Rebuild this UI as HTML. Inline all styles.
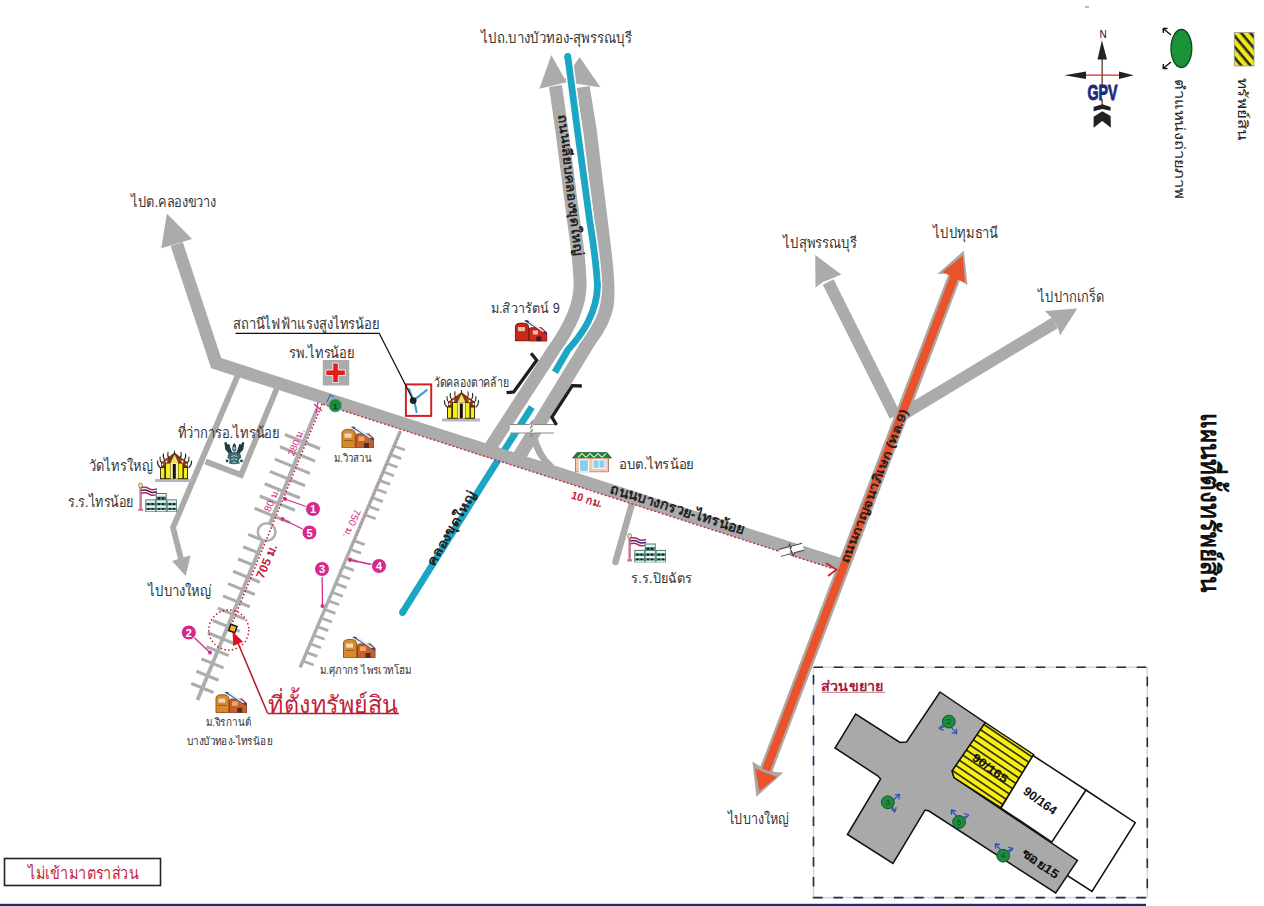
<!DOCTYPE html>
<html><head><meta charset="utf-8"><style>
html,body{margin:0;padding:0;background:#fff;}
svg{display:block;}
</style></head><body>
<svg width="1264" height="906" viewBox="0 0 1264 906">
<rect width="1264" height="906" fill="#fff"/>
<defs>
<pattern id="hatch" patternUnits="userSpaceOnUse" width="8" height="6.2" patternTransform="rotate(34)">
  <rect width="8" height="6.2" fill="#f5ef12"/><rect x="0" y="0" width="8" height="1.6" fill="#2a2010"/>
</pattern>
<pattern id="hatch2" patternUnits="userSpaceOnUse" width="8" height="7" patternTransform="rotate(50)">
  <rect width="8" height="7" fill="#f3ea10"/><rect x="0" y="0" width="8" height="2.6" fill="#2a2a2a"/>
</pattern>
<symbol id="house" viewBox="0 0 33 22">
  <path d="M1,21.8 V7 Q1,3.4 7.6,3.4 Q14.2,3.4 14.2,7 V21.8 Z" fill="#d68a2a" stroke="#8a4a12" stroke-width="0.9"/>
  <rect x="3.5" y="7.5" width="7" height="4.2" fill="#f0d8c0"/>
  <rect x="3" y="14" width="9" height="1" fill="#a05a18"/>
  <path d="M14.9,22.2 V9.5 Q14.9,7.9 17,7.9 H28 L32.8,12.5 V22.2 Z" fill="#c8602a" stroke="#7a3010" stroke-width="0.9"/>
  <rect x="17.5" y="10.5" width="6" height="4.5" fill="#f0a868"/>
  <rect x="23" y="17" width="5" height="5" fill="#4a3028"/>
  <polygon points="9.6,1 12.5,0.4 32.8,12.6 32.8,15 " fill="#2a4a8a"/>
  <polygon points="13.5,2 17,2 31,11.8 28.5,12" fill="#d8f0f8"/>
</symbol>
<symbol id="redhouse" viewBox="0 0 33 22">
  <path d="M1,21.5 V7 Q1,3.6 7.6,3.6 Q14.2,3.6 14.2,7 V21.5 Z" fill="#c8281a" stroke="#6a1008" stroke-width="0.9"/>
  <rect x="3.5" y="7.5" width="7" height="4.2" fill="#e8c0b0"/>
  <path d="M14.9,21.8 V10 Q14.9,8.2 17,8.2 H27 L32.5,13.5 V21.8 Z" fill="#d42818" stroke="#6a1008" stroke-width="0.9"/>
  <rect x="18.5" y="11" width="5" height="4" fill="#f4c8c0"/>
  <rect x="22" y="17" width="5" height="4.8" fill="#3a2020"/>
  <polygon points="9.6,1.2 12.5,0.6 32.5,13 32.5,15" fill="#2a2a6a"/>
  <polygon points="13.5,2.2 17,2.2 30.5,12 28,12.2" fill="#f0f0f8"/>
</symbol>
<symbol id="temple" viewBox="0 0 38 32">
  <rect x="0" y="28.5" width="38" height="3" fill="#b4b4c4"/>
  <path d="M6,12 L13,7 L19.5,2 L26,7 L33,12 L33,28.5 L6,28.5 Z" fill="#7a3a14"/>
  <g fill="#f2ee18" stroke="#2a200a" stroke-width="0.9">
    <rect x="5.5" y="17" width="4.3" height="11.2"/>
    <rect x="10.5" y="12.5" width="5" height="15.7"/>
    <rect x="23" y="12.5" width="5" height="15.7"/>
    <rect x="28.3" y="17" width="4.3" height="11.2"/>
  </g>
  <rect x="15.5" y="12.5" width="7.5" height="15.7" fill="#f8f4a0"/>
  <rect x="17.8" y="13.5" width="3" height="14.8" fill="#1a1010"/>
  <polygon points="15.5,12.5 19.5,4 23.5,12.5" fill="#f0e060"/>
  <path d="M9,14 Q10,9 13,8 M28,14 Q27,9 24,8" stroke="#c04020" stroke-width="2" fill="none"/>
  <g stroke="#2a2a2a" stroke-width="1.1" fill="none" stroke-linecap="round">
    <path d="M19.5,4 V0.5"/>
    <path d="M14,8 Q12,5 13,1.8"/><path d="M25,8 Q27,5 26,1.8"/>
    <path d="M10,10 Q7.5,7 8.5,3.5"/><path d="M29,10 Q31.5,7 30.5,3.5"/>
    <path d="M7,13 Q4.5,10 5,6.5"/><path d="M32,13 Q34.5,10 34,6.5"/>
    <path d="M5,17 Q2,14 2.5,10.5"/><path d="M34,17 Q37,14 36.5,10.5"/>
  </g>
  <g fill="#fff"><circle cx="11.5" cy="11" r="1"/><circle cx="27.5" cy="11" r="1"/><circle cx="7.5" cy="14" r="0.9"/><circle cx="31.5" cy="14" r="0.9"/></g>
</symbol>
<symbol id="school" viewBox="0 0 40 30">
  <rect x="2.4" y="2" width="2.5" height="26.5" fill="#c87898"/>
  <rect x="1.3" y="26.8" width="4.8" height="2.2" fill="#c87898"/>
  <ellipse cx="3.6" cy="3.4" rx="1.9" ry="2.4" fill="#f4eab0" stroke="#6a6a20" stroke-width="0.7"/>
  <path d="M4.5,5.6 Q9,4.6 12,6.6 T20,7" stroke="#c82050" stroke-width="1.5" fill="none"/>
  <path d="M4.5,8.4 Q9,7.4 12,9.4 T20,9.8" stroke="#2a2a6a" stroke-width="1.5" fill="none"/>
  <path d="M4.5,11.2 Q9,10.2 12,12.2 T20,12.6" stroke="#c02050" stroke-width="1.5" fill="none"/>
  <g fill="#4a7872">
    <rect x="18.7" y="11" width="11" height="19.2"/>
    <rect x="8.3" y="17.4" width="10.6" height="12.8"/>
    <rect x="29.7" y="17.4" width="10.5" height="12.8"/>
  </g>
  <g fill="#e4faf4">
    <rect x="19.6" y="12" width="9.2" height="2.6"/>
    <rect x="9.2" y="18.4" width="8.8" height="2.4"/><rect x="19.6" y="18.4" width="9.2" height="2.4"/><rect x="30.6" y="18.4" width="8.7" height="2.4"/>
    <rect x="9.2" y="23.4" width="8.8" height="2.4"/><rect x="19.6" y="23.4" width="9.2" height="2.4"/><rect x="30.6" y="23.4" width="8.7" height="2.4"/>
    <rect x="9.2" y="28" width="8.8" height="1.4"/><rect x="19.6" y="28" width="9.2" height="1.4"/><rect x="30.6" y="28" width="8.7" height="1.4"/>
  </g>
  <g fill="#142020">
    <rect x="21" y="15.3" width="2" height="2"/><rect x="25" y="15.3" width="2" height="2"/>
    <rect x="10.5" y="21.2" width="2" height="1.8"/><rect x="14.5" y="21.2" width="2" height="1.8"/><rect x="21" y="21.2" width="2" height="1.8"/><rect x="25" y="21.2" width="2" height="1.8"/><rect x="32" y="21.2" width="2" height="1.8"/><rect x="36" y="21.2" width="2" height="1.8"/>
    <rect x="10.5" y="26.1" width="2" height="1.6"/><rect x="14.5" y="26.1" width="2" height="1.6"/><rect x="21" y="26.1" width="2" height="1.6"/><rect x="25" y="26.1" width="2" height="1.6"/><rect x="32" y="26.1" width="2" height="1.6"/><rect x="36" y="26.1" width="2" height="1.6"/>
  </g>
</symbol>
<symbol id="garuda" viewBox="0 0 22 23">
  <path d="M1,1 L3,0.3 L4.2,3 L6,2.5 L8,9 L10,12.5 L6,12.5 L2,8 Z" fill="#1e3c42"/>
  <path d="M21,1 L19,0.3 L17.8,3 L16,2.5 L14,9 L12,12.5 L16,12.5 L20,8 Z" fill="#1e3c42"/>
  <path d="M5,12 Q11,9 17,12 L18,16 L15.5,18.5 L16.5,22 L11,23 L5.5,22 L6.5,18.5 L4,16 Z" fill="#3c6a70"/>
  <path d="M9,8 Q9,2.8 11,1.5 Q13,2.8 13,8 L12,10 L10,10 Z" fill="#1e3c42"/>
  <ellipse cx="11" cy="7" rx="1.4" ry="2" fill="#8ab4b8"/>
  <path d="M8,15 Q11,13 14,15 M8,18 Q11,16.5 14,18 M9,21 Q11,19.5 13,21" stroke="#b8dcdc" stroke-width="0.9" fill="none"/>
  <circle cx="3.8" cy="19.3" r="1.4" fill="#1e3c42"/><circle cx="18.2" cy="19.3" r="1.4" fill="#1e3c42"/>
</symbol>
<symbol id="obt" viewBox="0 0 40 21">
  <path d="M0.5,6.5 L5,1 L35,1 L39.5,6.5 Z" fill="#23803a" stroke="#1a4a20" stroke-width="0.6"/>
  <path d="M6,6 L10,2 L14,6 L18,2 L22,6 L26,2 L30,6 L34,2" stroke="#c8f0c0" stroke-width="1.1" fill="none"/>
  <rect x="3.5" y="6.5" width="33" height="14" fill="#f2c8b0" stroke="#a06a50" stroke-width="0.8"/>
  <rect x="7.5" y="8.3" width="9" height="12" fill="#88cef0" stroke="#fff" stroke-width="1"/>
  <rect x="21" y="8.3" width="12" height="8.5" fill="#88cef0" stroke="#fff" stroke-width="1"/>
  <line x1="27" y1="8.3" x2="27" y2="16.8" stroke="#fff" stroke-width="0.8"/>
</symbol>
</defs>
<g id="geo">
<path d="M176.7,244 L216.2,363.2 L840,564.4" fill="none" stroke="#ababab" stroke-width="12.8" stroke-linejoin="miter" stroke-miterlimit="10"/>
<polygon points="166.9,213.6 161.3,248.3 192.0,239.0" fill="#ababab" />
<path d="M238,375 L173,527.5 L181,559" fill="none" stroke="#ababab" stroke-width="5.8" />
<polygon points="185.7,575.9 172.0,560.9 190.6,555.2" fill="#ababab" />
<path d="M277,388 L241,475 L205.5,461.5" fill="none" stroke="#ababab" stroke-width="5.8" />
<path d="M633,500 L615.5,562" fill="none" stroke="#ababab" stroke-width="6.5" stroke-linecap="round"/>
<path d="M555.5,86 L561.8,130 L568.3,180 L573.5,220 Q579,256 580,280 Q581,296 574,314 Q566,333 553.5,350 L488,451" fill="none" stroke="#ababab" stroke-width="13" />
<path d="M583,87 L589.9,130 L596,180 L600.9,220 L605.5,258 Q609,290 607,305 Q604,322 590,340 L517,460" fill="none" stroke="#ababab" stroke-width="13.5" />
<path d="M533,434 Q538,456 552,468" fill="none" stroke="#ababab" stroke-width="7" />
<polygon points="551.3,54.9 539.4,88.7 566.7,82.2" fill="#ababab" />
<polygon points="579.6,56.9 562.7,81.7 600.4,87.2" fill="#ababab" />
<path d="M895.2,416 L828.2,282" fill="none" stroke="#ababab" stroke-width="12" />
<polygon points="815.2,255.0 815.5,287.5 823.0,282.0 833.1,278.1 841.3,274.4" fill="#ababab" />
<path d="M897,418 L1054.6,323" fill="none" stroke="#ababab" stroke-width="12" />
<polygon points="1077.2,308.5 1044.9,311.0 1051.3,317.4 1057.9,328.1 1060.1,335.6" fill="#ababab" />
<path d="M567.7,56 L577.4,130 L584.2,180 L589.6,220 Q596,260 597.4,284 Q598,302 588,322 Q580,337 567.8,350 L554.9,372.2" fill="none" stroke="#ffffff" stroke-width="9.8" stroke-linecap="butt"/>
<path d="M567.7,56 L577.4,130 L584.2,180 L589.6,220 Q596,260 597.4,284 Q598,302 588,322 Q580,337 567.8,350 L554.9,372.2" fill="none" stroke="#1ba6c6" stroke-width="6.8" stroke-linecap="butt"/>
<circle cx="567.7" cy="56.5" r="3.4" fill="#1ba6c6"/>
<path d="M531.8,407.2 L485.4,480 L402.5,612.5" fill="none" stroke="#ffffff" stroke-width="9.8" stroke-linecap="butt"/>
<path d="M531.8,407.2 L485.4,480 L402.5,612.5" fill="none" stroke="#1ba6c6" stroke-width="6.8" stroke-linecap="butt"/>
<circle cx="402.5" cy="612.5" r="3.4" fill="#1ba6c6"/>
<path d="M465,443.4 L515,459.5" fill="none" stroke="#ababab" stroke-width="12.8" />
<path d="M955,275 L766,770" fill="none" stroke="#aea6a2" stroke-width="13" />
<polygon points="963.9,250.6 937.4,274.0 948.7,273.7 960.2,279.8 967.5,285.2" fill="#aea6a2" />
<polygon points="756.4,796.7 752.4,761.5 763.0,768.0 775.0,772.0 783.4,772.5" fill="#aea6a2" />
<path d="M955,275 L766,770" fill="none" stroke="#e9532b" stroke-width="8.2" />
<polygon points="962.8,255.5 942.5,272.0 965.0,283.0" fill="#e9532b" />
<polygon points="759.4,791.0 755.2,768.5 777.0,777.0" fill="#e9532b" />
<line x1="317" y1="409" x2="197.5" y2="700" stroke="#adadad" stroke-width="3.8"/>
<line x1="284.9" y1="434.5" x2="320.1" y2="448.8" stroke="#adadad" stroke-width="3.1"/>
<line x1="279.9" y1="446.8" x2="315.1" y2="461.1" stroke="#adadad" stroke-width="3.1"/>
<line x1="274.8" y1="459.1" x2="310.0" y2="473.4" stroke="#adadad" stroke-width="3.1"/>
<line x1="269.8" y1="471.4" x2="305.0" y2="485.7" stroke="#adadad" stroke-width="3.1"/>
<line x1="264.7" y1="483.7" x2="299.9" y2="498.0" stroke="#adadad" stroke-width="3.1"/>
<line x1="259.7" y1="496.0" x2="294.9" y2="510.3" stroke="#adadad" stroke-width="3.1"/>
<line x1="254.6" y1="508.3" x2="289.8" y2="522.6" stroke="#adadad" stroke-width="3.1"/>
<line x1="248.2" y1="534.4" x2="263.0" y2="540.4" stroke="#adadad" stroke-width="3.1"/>
<line x1="243.2" y1="546.7" x2="258.0" y2="552.7" stroke="#adadad" stroke-width="3.1"/>
<line x1="238.1" y1="559.0" x2="252.9" y2="565.0" stroke="#adadad" stroke-width="3.1"/>
<line x1="233.1" y1="571.3" x2="259.9" y2="582.2" stroke="#adadad" stroke-width="3.1"/>
<line x1="228.0" y1="583.6" x2="254.9" y2="594.5" stroke="#adadad" stroke-width="3.1"/>
<line x1="223.0" y1="595.9" x2="249.8" y2="606.8" stroke="#adadad" stroke-width="3.1"/>
<line x1="217.9" y1="608.2" x2="244.8" y2="619.1" stroke="#adadad" stroke-width="3.1"/>
<line x1="212.9" y1="620.5" x2="239.7" y2="631.4" stroke="#adadad" stroke-width="3.1"/>
<line x1="207.8" y1="632.8" x2="234.7" y2="643.7" stroke="#adadad" stroke-width="3.1"/>
<line x1="206.5" y1="646.6" x2="228.7" y2="655.6" stroke="#adadad" stroke-width="3.1"/>
<line x1="201.4" y1="658.9" x2="223.6" y2="667.9" stroke="#adadad" stroke-width="3.1"/>
<line x1="196.4" y1="671.2" x2="218.6" y2="680.2" stroke="#adadad" stroke-width="3.1"/>
<line x1="191.3" y1="683.5" x2="213.5" y2="692.5" stroke="#adadad" stroke-width="3.1"/>
<line x1="400.4" y1="431" x2="300.1" y2="667.5" stroke="#adadad" stroke-width="3.4"/>
<line x1="394.0" y1="446.0" x2="404.8" y2="450.0" stroke="#adadad" stroke-width="2.8"/>
<line x1="390.4" y1="454.6" x2="401.2" y2="458.6" stroke="#adadad" stroke-width="2.8"/>
<line x1="386.7" y1="463.2" x2="397.5" y2="467.2" stroke="#adadad" stroke-width="2.8"/>
<line x1="383.1" y1="471.8" x2="393.9" y2="475.8" stroke="#adadad" stroke-width="2.8"/>
<line x1="379.4" y1="480.4" x2="390.2" y2="484.4" stroke="#adadad" stroke-width="2.8"/>
<line x1="375.8" y1="489.0" x2="386.6" y2="493.0" stroke="#adadad" stroke-width="2.8"/>
<line x1="372.2" y1="497.6" x2="382.9" y2="501.6" stroke="#adadad" stroke-width="2.8"/>
<line x1="368.5" y1="506.2" x2="379.3" y2="510.2" stroke="#adadad" stroke-width="2.8"/>
<line x1="364.9" y1="514.8" x2="375.6" y2="518.8" stroke="#adadad" stroke-width="2.8"/>
<line x1="353.9" y1="540.6" x2="364.7" y2="544.6" stroke="#adadad" stroke-width="2.8"/>
<line x1="350.3" y1="549.2" x2="361.1" y2="553.2" stroke="#adadad" stroke-width="2.8"/>
<line x1="346.6" y1="557.8" x2="357.4" y2="561.8" stroke="#adadad" stroke-width="2.8"/>
<line x1="343.0" y1="566.4" x2="353.8" y2="570.4" stroke="#adadad" stroke-width="2.8"/>
<line x1="339.3" y1="575.0" x2="350.1" y2="579.0" stroke="#adadad" stroke-width="2.8"/>
<line x1="335.7" y1="583.6" x2="346.5" y2="587.6" stroke="#adadad" stroke-width="2.8"/>
<line x1="332.0" y1="592.2" x2="342.8" y2="596.2" stroke="#adadad" stroke-width="2.8"/>
<line x1="328.4" y1="600.8" x2="339.2" y2="604.8" stroke="#adadad" stroke-width="2.8"/>
<line x1="324.7" y1="609.4" x2="335.5" y2="613.4" stroke="#adadad" stroke-width="2.8"/>
<line x1="321.1" y1="618.0" x2="331.9" y2="622.0" stroke="#adadad" stroke-width="2.8"/>
<line x1="317.4" y1="626.6" x2="328.2" y2="630.6" stroke="#adadad" stroke-width="2.8"/>
<line x1="313.8" y1="635.2" x2="324.6" y2="639.2" stroke="#adadad" stroke-width="2.8"/>
<line x1="310.2" y1="643.8" x2="320.9" y2="647.8" stroke="#adadad" stroke-width="2.8"/>
<line x1="306.5" y1="652.4" x2="317.3" y2="656.4" stroke="#adadad" stroke-width="2.8"/>
<line x1="302.9" y1="661.0" x2="313.6" y2="665.0" stroke="#adadad" stroke-width="2.8"/>
<line x1="401" y1="431" x2="352" y2="546" stroke="#d42b8b" stroke-width="1.3" stroke-dasharray="1.5,2.5" opacity="0.45"/>
<circle cx="266.6" cy="532" r="8.8" fill="#fff" stroke="#b0b0b0" stroke-width="2.6"/>
<path d="M322,404 L231,626" stroke="#c21f3a" stroke-width="1.5" stroke-dasharray="1.6,2" fill="none"/>
<path d="M323,404.2 L833,568.7" stroke="#c21f3a" stroke-width="1.5" stroke-dasharray="2,2" fill="none" opacity="0.85"/>
<path d="M826,563 L836.5,569.5 L828,576" stroke="#c21f3a" stroke-width="1.6" fill="none"/>
<circle cx="228.8" cy="630" r="20" fill="none" stroke="#c21f3a" stroke-width="1.4" stroke-dasharray="1.6,2.2"/>
<rect x="510" y="424.5" width="44" height="8.5" fill="#fff"/>
<path d="M510,424.5 L529.5,424.5 L532.5,420.5 L530.5,428.5 L533.5,424.5 L554,424.5" stroke="#888" stroke-width="1" fill="none"/>
<path d="M510,433 L529.5,433 L532.5,429 L530.5,437 L533.5,433 L554,433" stroke="#888" stroke-width="1" fill="none"/>
<g transform="translate(791.5,549.8) rotate(-15)"><rect x="-12" y="-3.6" width="24" height="7.2" fill="#fff"/><path d="M-12,-3.6 L-2,-3.6 L0,-6.5 L-1,-0.5 L1,-3.6 L12,-3.6 M-12,3.6 L-1.5,3.6 L-0.5,0 L0.5,6.5 L2,3.6 L12,3.6" stroke="#444" stroke-width="1" fill="none"/></g>
<path d="M531.1,353.2 L536.7,360.3 L513.7,391.9 L506.6,392.7" stroke="#1e1e1e" stroke-width="3.3" fill="none"/>
<path d="M581.8,386 L572.3,385.6 L551.9,417.2 L556.5,425" stroke="#1e1e1e" stroke-width="3.3" fill="none"/>
<use href="#temple" x="155" y="450.5" width="38" height="32"/>
<use href="#school" x="137" y="482" width="40" height="30"/>
<use href="#garuda" x="223.3" y="441.6" width="22" height="23"/>
<use href="#house" x="341" y="426" width="33" height="22"/>
<use href="#house" x="342.5" y="636" width="33" height="22"/>
<use href="#house" x="215" y="691" width="32" height="22"/>
<use href="#temple" x="442" y="390" width="38" height="32"/>
<use href="#obt" x="572" y="451.5" width="40" height="21"/>
<use href="#school" x="626" y="532.5" width="40" height="30"/>
<use href="#redhouse" x="514.4" y="319.5" width="33" height="22"/>
<rect x="322.8" y="360" width="26.4" height="25.5" fill="#ababab"/>
<path d="M332.8,363 h5.5 v7 h7 v5.5 h-7 v7 h-5.5 v-7 h-7 v-5.5 h7 z" fill="#e01e1e" stroke="#fff" stroke-width="0.8"/>
<rect x="405.9" y="384.4" width="25.3" height="31.5" fill="#fff" stroke="#d22020" stroke-width="2"/>
<path d="M413.2,400.6 L408.8,388.2 M413.2,400.6 L427.4,389.6 M414.5,402 L416.8,413" stroke="#3aa0c8" stroke-width="2" fill="none"/>
<circle cx="413.2" cy="400.6" r="3.4" fill="#222"/>
<path d="M235.5,333.3 L379.2,333.3 L413.2,400" stroke="#111" stroke-width="1.3" fill="none"/>
<circle cx="335.3" cy="405.4" r="6.5" fill="#1f8a3a" stroke="#3ab0d0" stroke-width="1"/>
<text x="335.3" y="408.5" font-family='"Liberation Sans", sans-serif' font-size="8" font-weight="bold" text-anchor="middle" fill="#0a3a1a">1</text>
<path d="M327,402 L330,395 L334,397" stroke="#2a70d0" stroke-width="1.2" fill="none"/>
<path d="M314,404 L322,411 M318,402 L316,413" stroke="#d42b8b" stroke-width="1.2" fill="none"/>
<rect x="-3.3" y="-3.3" width="6.6" height="6.6" fill="#f0b820" stroke="#1a1010" stroke-width="1.4" transform="translate(232.8 628.5) rotate(20)"/>
<path d="M267.5,713 L238,643" stroke="#b01c30" stroke-width="1.5" fill="none"/>
<polygon points="232.5,631.5 233.3,646 243,641.8" fill="#e01020"/>
<path d="M267.5,713.5 L399,713.5" stroke="#b01c30" stroke-width="1.5" fill="none"/>
<path d="M313,509 L285,499" stroke="#d42b8b" stroke-width="1.3" fill="none"/>
<circle cx="285" cy="499" r="2" fill="#d42b8b"/>
<circle cx="313" cy="509" r="7.5" fill="#d42b8b" stroke="#fff" stroke-width="1"/>
<text x="313" y="513" font-family='"Liberation Sans", sans-serif' font-size="11" font-weight="bold" text-anchor="middle" fill="#fff">1</text>
<path d="M309.5,532.5 L282.5,519" stroke="#d42b8b" stroke-width="1.3" fill="none"/>
<circle cx="282.5" cy="519" r="2" fill="#d42b8b"/>
<circle cx="309.5" cy="532.5" r="7.5" fill="#d42b8b" stroke="#fff" stroke-width="1"/>
<text x="309.5" y="536.5" font-family='"Liberation Sans", sans-serif' font-size="11" font-weight="bold" text-anchor="middle" fill="#fff">5</text>
<path d="M322,569 L322.5,606" stroke="#d42b8b" stroke-width="1.3" fill="none"/>
<circle cx="322.5" cy="606" r="2" fill="#d42b8b"/>
<circle cx="322" cy="569" r="7.5" fill="#d42b8b" stroke="#fff" stroke-width="1"/>
<text x="322" y="573" font-family='"Liberation Sans", sans-serif' font-size="11" font-weight="bold" text-anchor="middle" fill="#fff">3</text>
<path d="M379,566 L350,560" stroke="#d42b8b" stroke-width="1.3" fill="none"/>
<circle cx="350" cy="560" r="2" fill="#d42b8b"/>
<circle cx="379" cy="566" r="7.5" fill="#d42b8b" stroke="#fff" stroke-width="1"/>
<text x="379" y="570" font-family='"Liberation Sans", sans-serif' font-size="11" font-weight="bold" text-anchor="middle" fill="#fff">4</text>
<path d="M188.8,632.5 L210,652.5" stroke="#d42b8b" stroke-width="1.3" fill="none"/>
<circle cx="210" cy="652.5" r="2" fill="#d42b8b"/>
<circle cx="188.8" cy="632.5" r="7.5" fill="#d42b8b" stroke="#fff" stroke-width="1"/>
<text x="188.8" y="636.5" font-family='"Liberation Sans", sans-serif' font-size="11" font-weight="bold" text-anchor="middle" fill="#fff">2</text>
<path d="M1085,7 L1089,7" stroke="#777" stroke-width="1"/>
<line x1="1102.2" y1="58" x2="1102.2" y2="85" stroke="#7a6050" stroke-width="1.6"/>
<line x1="1102.2" y1="99" x2="1102.2" y2="105" stroke="#7a6050" stroke-width="1.6"/>
<polygon points="1101.9,40.3 1097.5,59.4 1107,59.4" fill="#222"/>
<line x1="1085" y1="75.2" x2="1120" y2="75.2" stroke="#d82a20" stroke-width="1.3"/>
<polygon points="1064.4,75.2 1086,71.4 1086,79" fill="#222"/>
<polygon points="1133.7,75.2 1119,71.4 1119,79" fill="#222"/>
<path d="M1093.6,107 L1102.3,104.2 L1110.6,107 L1110.6,110.8 L1102.3,108.9 L1093.6,111.2 Z M1093.6,116.8 L1102.3,111.2 L1110.6,116 L1110.9,127.7 L1102.3,120.9 L1093.6,127.7 Z" fill="#222"/>
<ellipse cx="1181.4" cy="48.5" rx="10.4" ry="19" fill="#1a9238" stroke="#0a4a1a" stroke-width="1.3"/>
<path d="M1171,35 L1163,28.5 M1163,28.5 L1163.5,33 M1163,28.5 L1167.5,28.5 M1171,62 L1163,68.5 M1163,68.5 L1163.5,64 M1163,68.5 L1167.5,68.5" stroke="#111" stroke-width="1.4" fill="none"/>
<rect x="1234.3" y="32.5" width="19.7" height="33.5" fill="url(#hatch2)" stroke="#999" stroke-width="0.8"/>
<rect x="4.5" y="858.5" width="156" height="27" fill="#fff" stroke="#222" stroke-width="1.6"/>
<rect x="0" y="903.8" width="1146" height="2.2" fill="#262a70"/>
<rect x="813.5" y="667.2" width="333.8" height="230.4" fill="none" stroke="#d0d8c8" stroke-width="1.4"/>
<rect x="813.5" y="667.2" width="333.8" height="230.4" fill="none" stroke="#1e2a58" stroke-width="1.6" stroke-dasharray="9.5,10.7"/>
<polygon points="1085.9,790.0 1135.3,822.6 1092.0,891.4 1040.0,858.0" fill="#fff" stroke="#111" stroke-width="1.5"/>
<polygon points="940.0,692.0 985.3,722.7 952.1,771.0 954.0,777.5 1077.4,860.5 1055.7,893.0 929.0,811.0 925.0,810.0 893.0,863.5 847.4,834.5 880.6,779.0 878.0,776.0 835.0,748.0 855.7,714.0 900.0,742.5 906.5,742.0 940.0,692.0" fill="#a9a9a9" stroke="#111" stroke-width="1.5" stroke-linejoin="miter"/>
<polygon points="985.3,722.7 1033.8,754.7 1000.7,807.7 954.0,777.5 952.1,771.0" fill="url(#hatch)" stroke="#111" stroke-width="1.4"/>
<polygon points="1033.0,755.5 1085.9,790.0 1051.9,842.0 1001.0,808.0" fill="#fff" stroke="#111" stroke-width="1.5"/>
<g transform="translate(948.8,721.6) rotate(0)"><path d="M-10,7 L0,3 L8,12 M-10,7 L-6,3.5 M-10,7 L-5,8.5 M8,12 L7.5,7 M8,12 L3,11" stroke="#2a58c0" stroke-width="1.3" fill="none"/></g>
<circle cx="948.8" cy="721.6" r="6.4" fill="#1e8a3e" stroke="#0e5a28" stroke-width="1"/>
<text x="948.8" y="724.2" font-family='"Liberation Sans", sans-serif' font-size="7.5" text-anchor="middle" fill="#0a4a20">2</text>
<g transform="translate(887.8,802.3) rotate(-90)"><path d="M-10,7 L0,3 L8,12 M-10,7 L-6,3.5 M-10,7 L-5,8.5 M8,12 L7.5,7 M8,12 L3,11" stroke="#2a58c0" stroke-width="1.3" fill="none"/></g>
<circle cx="887.8" cy="802.3" r="6.4" fill="#1e8a3e" stroke="#0e5a28" stroke-width="1"/>
<text x="887.8" y="804.9" font-family='"Liberation Sans", sans-serif' font-size="7.5" text-anchor="middle" fill="#0a4a20">3</text>
<g transform="translate(959.1,822) rotate(180)"><path d="M-10,7 L0,3 L8,12 M-10,7 L-6,3.5 M-10,7 L-5,8.5 M8,12 L7.5,7 M8,12 L3,11" stroke="#2a58c0" stroke-width="1.3" fill="none"/></g>
<circle cx="959.1" cy="822" r="6.4" fill="#1e8a3e" stroke="#0e5a28" stroke-width="1"/>
<text x="959.1" y="824.6" font-family='"Liberation Sans", sans-serif' font-size="7.5" text-anchor="middle" fill="#0a4a20">5</text>
<g transform="translate(1003.2,855.7) rotate(180)"><path d="M-10,7 L0,3 L8,12 M-10,7 L-6,3.5 M-10,7 L-5,8.5 M8,12 L7.5,7 M8,12 L3,11" stroke="#2a58c0" stroke-width="1.3" fill="none"/></g>
<circle cx="1003.2" cy="855.7" r="6.4" fill="#1e8a3e" stroke="#0e5a28" stroke-width="1"/>
<text x="1003.2" y="858.3000000000001" font-family='"Liberation Sans", sans-serif' font-size="7.5" text-anchor="middle" fill="#0a4a20">4</text>
</g>
<g id="texts">
<text id="t1" x="481.0" y="43.0" font-family='"Liberation Sans", sans-serif' font-size="15" font-weight="normal" fill="#333" textLength="151.3" lengthAdjust="spacingAndGlyphs">ไปถ.บางบัวทอง-สุพรรณบุรี</text>
<text id="t2" x="131.0" y="207.3" font-family='"Liberation Sans", sans-serif' font-size="15" font-weight="normal" fill="#333" textLength="85.0" lengthAdjust="spacingAndGlyphs">ไปต.คลองขวาง</text>
<text id="t3" x="233.2" y="329.3" font-family='"Liberation Sans", sans-serif' font-size="15" font-weight="normal" fill="#333" textLength="146.4" lengthAdjust="spacingAndGlyphs">สถานีไฟฟ้าแรงสูงไทรน้อย</text>
<text id="t4" x="289.0" y="358.1" font-family='"Liberation Sans", sans-serif' font-size="15" font-weight="normal" fill="#333" textLength="65.6" lengthAdjust="spacingAndGlyphs">รพ.ไทรน้อย</text>
<text id="t5" x="490.8" y="312.6" font-family='"Liberation Sans", sans-serif' font-size="14" font-weight="normal" fill="#333" textLength="69.1" lengthAdjust="spacingAndGlyphs">ม.สิวารัตน์ 9</text>
<text id="t6" x="434.0" y="386.9" font-family='"Liberation Sans", sans-serif' font-size="13" font-weight="normal" fill="#333" textLength="75.0" lengthAdjust="spacingAndGlyphs">วัดคลองตาคล้าย</text>
<text id="t7" x="177.8" y="438.1" font-family='"Liberation Sans", sans-serif' font-size="15" font-weight="normal" fill="#333" textLength="101.9" lengthAdjust="spacingAndGlyphs">ที่ว่าการอ.ไทรน้อย</text>
<text id="t8" x="89.0" y="471.4" font-family='"Liberation Sans", sans-serif' font-size="15" font-weight="normal" fill="#333" textLength="63.7" lengthAdjust="spacingAndGlyphs">วัดไทรใหญ่</text>
<text id="t9" x="68.2" y="506.9" font-family='"Liberation Sans", sans-serif' font-size="15" font-weight="normal" fill="#333" textLength="65.5" lengthAdjust="spacingAndGlyphs">ร.ร.ไทรน้อย</text>
<text id="t10" x="334.0" y="461.5" font-family='"Liberation Sans", sans-serif' font-size="11" font-weight="normal" fill="#333" textLength="37.5" lengthAdjust="spacingAndGlyphs">ม.วิวสวน</text>
<text id="t11" x="619.0" y="469.0" font-family='"Liberation Sans", sans-serif' font-size="14" font-weight="normal" fill="#333" textLength="75.0" lengthAdjust="spacingAndGlyphs">อบต.ไทรน้อย</text>
<text id="t12" x="631.0" y="583.0" font-family='"Liberation Sans", sans-serif' font-size="14" font-weight="normal" fill="#333" textLength="61.5" lengthAdjust="spacingAndGlyphs">ร.ร.ปิยฉัตร</text>
<text id="t13" x="148.0" y="595.5" font-family='"Liberation Sans", sans-serif' font-size="15" font-weight="normal" fill="#333" textLength="63.5" lengthAdjust="spacingAndGlyphs">ไปบางใหญ่</text>
<text id="t14" x="727.6" y="823.5" font-family='"Liberation Sans", sans-serif' font-size="15" font-weight="normal" fill="#333" textLength="61.2" lengthAdjust="spacingAndGlyphs">ไปบางใหญ่</text>
<text id="t15" x="320.0" y="674.0" font-family='"Liberation Sans", sans-serif' font-size="11" font-weight="normal" fill="#333" textLength="91.5" lengthAdjust="spacingAndGlyphs">ม.ศุภากร ไพรเวทโฮม</text>
<text id="t16" x="206.0" y="725.5" font-family='"Liberation Sans", sans-serif' font-size="11" font-weight="normal" fill="#333" textLength="45.0" lengthAdjust="spacingAndGlyphs">ม.จิรกานต์</text>
<text id="t17" x="187.0" y="744.5" font-family='"Liberation Sans", sans-serif' font-size="11" font-weight="normal" fill="#333" textLength="85.0" lengthAdjust="spacingAndGlyphs">บางบัวทอง-ไทรน้อย</text>
<text id="t18" x="268.0" y="712.8" font-family='"Liberation Sans", sans-serif' font-size="24" font-weight="normal" fill="#c21f3a" textLength="130.0" lengthAdjust="spacingAndGlyphs">ที่ตั้งทรัพย์สิน</text>
<text id="t19" x="783.0" y="247.8" font-family='"Liberation Sans", sans-serif' font-size="15" font-weight="normal" fill="#333" textLength="74.0" lengthAdjust="spacingAndGlyphs">ไปสุพรรณบุรี</text>
<text id="t20" x="933.0" y="237.7" font-family='"Liberation Sans", sans-serif' font-size="15" font-weight="normal" fill="#333" textLength="65.0" lengthAdjust="spacingAndGlyphs">ไปปทุมธานี</text>
<text id="t21" x="1038.4" y="302.0" font-family='"Liberation Sans", sans-serif' font-size="15" font-weight="normal" fill="#333" textLength="66.1" lengthAdjust="spacingAndGlyphs">ไปปากเกร็ด</text>
<text id="t22" x="28.0" y="878.5" font-family='"Liberation Sans", sans-serif' font-size="17" font-weight="normal" fill="#c21f3a" textLength="111.1" lengthAdjust="spacingAndGlyphs">ไม่เข้ามาตราส่วน</text>
<text id="t23" x="821.0" y="690.7" font-family='"Liberation Sans", sans-serif' font-size="14" font-weight="bold" fill="#a8183a" textLength="62.5" lengthAdjust="spacingAndGlyphs">ส่วนขยาย</text>
<line x1="822" y1="692.3" x2="885.5" y2="692.3" stroke="#b07080" stroke-width="0.9"/>
<text transform="translate(587 499) rotate(17)" x="0" y="0" dominant-baseline="central" text-anchor="middle" font-family='"Liberation Sans", sans-serif' font-size="11" font-weight="bold" fill="#c21f3a" textLength="32" lengthAdjust="spacingAndGlyphs" >10 กม.</text>
<text transform="translate(677.5 509) rotate(17.3)" x="0" y="0" dominant-baseline="central" text-anchor="middle" font-family='"Liberation Sans", sans-serif' font-size="14.5" font-weight="bold" fill="#222" textLength="140" lengthAdjust="spacingAndGlyphs" >ถนนบางกรวย-ไทรน้อย</text>
<text transform="translate(571 185) rotate(83.4)" x="0" y="0" dominant-baseline="central" text-anchor="middle" font-family='"Liberation Sans", sans-serif' font-size="13" font-weight="bold" fill="#222" textLength="141" lengthAdjust="spacingAndGlyphs" >ถนนเลียบคลองขุดใหญ่</text>
<text transform="translate(451 528.5) rotate(-60)" x="0" y="0" dominant-baseline="central" text-anchor="middle" font-family='"Liberation Sans", sans-serif' font-size="13" font-weight="bold" fill="#222" textLength="84" lengthAdjust="spacingAndGlyphs" >คลองขุดใหญ่</text>
<text transform="translate(874.5 486) rotate(-68.5)" x="0" y="0" dominant-baseline="central" text-anchor="middle" font-family='"Liberation Sans", sans-serif' font-size="12" font-weight="bold" fill="#222" textLength="164" lengthAdjust="spacingAndGlyphs" >ถนนกาญจนาภิเษก (ทล.9)</text>
<text transform="translate(296.3 442) rotate(-67)" x="0" y="0" dominant-baseline="central" text-anchor="middle" font-family='"Liberation Sans", sans-serif' font-size="10" font-weight="normal" fill="#d42b8b" textLength="29" lengthAdjust="spacingAndGlyphs" >280 ม.</text>
<text transform="translate(271.5 500) rotate(-67)" x="0" y="0" dominant-baseline="central" text-anchor="middle" font-family='"Liberation Sans", sans-serif' font-size="10" font-weight="normal" fill="#d42b8b" textLength="24" lengthAdjust="spacingAndGlyphs" >80 ม.</text>
<text transform="translate(266.6 561.4) rotate(-67)" x="0" y="0" dominant-baseline="central" text-anchor="middle" font-family='"Liberation Sans", sans-serif' font-size="12" font-weight="bold" fill="#c21f3a" textLength="36" lengthAdjust="spacingAndGlyphs" >705 ม.</text>
<text transform="translate(352 523.5) rotate(113)" x="0" y="0" dominant-baseline="central" text-anchor="middle" font-family='"Liberation Sans", sans-serif' font-size="10" font-weight="normal" fill="#d42b8b" textLength="30" lengthAdjust="spacingAndGlyphs" >750 ม.</text>
<text transform="translate(1180 139) rotate(90)" x="0" y="0" dominant-baseline="central" text-anchor="middle" font-family='"Liberation Sans", sans-serif' font-size="14" font-weight="normal" fill="#222" textLength="120" lengthAdjust="spacingAndGlyphs" >ตำแหน่งถ่ายภาพ</text>
<text transform="translate(1243 109.5) rotate(90)" x="0" y="0" dominant-baseline="central" text-anchor="middle" font-family='"Liberation Sans", sans-serif' font-size="14" font-weight="normal" fill="#222" textLength="63.7" lengthAdjust="spacingAndGlyphs" >ทรัพย์สิน</text>
<text transform="translate(1210 503) rotate(90)" x="0" y="0" dominant-baseline="central" text-anchor="middle" font-family='"Liberation Sans", sans-serif' font-size="26" font-weight="bold" fill="#111" textLength="180" lengthAdjust="spacingAndGlyphs" >แผนที่ตั้งทรัพย์สิน</text>
<text transform="translate(990.2 768) rotate(36)" x="0" y="0" dominant-baseline="central" text-anchor="middle" font-family='"Liberation Sans", sans-serif' font-size="11.5" font-weight="bold" fill="#111" textLength="41" lengthAdjust="spacingAndGlyphs" >90/165</text>
<text transform="translate(1040 801) rotate(36)" x="0" y="0" dominant-baseline="central" text-anchor="middle" font-family='"Liberation Sans", sans-serif' font-size="12.5" font-weight="bold" fill="#111" textLength="38" lengthAdjust="spacingAndGlyphs" >90/164</text>
<text transform="translate(1040.5 864) rotate(35)" x="0" y="0" dominant-baseline="central" text-anchor="middle" font-family='"Liberation Sans", sans-serif' font-size="12.5" font-weight="bold" fill="#111" textLength="42" lengthAdjust="spacingAndGlyphs" >ซอย15</text>
<text x="1103" y="38" font-family='"Liberation Sans", sans-serif' font-size="10" fill="#111" text-anchor="middle">N</text>
<text x="1087.5" y="100" font-family='"Liberation Sans", sans-serif' font-size="21.5" font-weight="bold" fill="#1a2a80" stroke="#1a2a80" stroke-width="0.9" textLength="30" lengthAdjust="spacingAndGlyphs">GPV</text>
</g>
</svg></body></html>
